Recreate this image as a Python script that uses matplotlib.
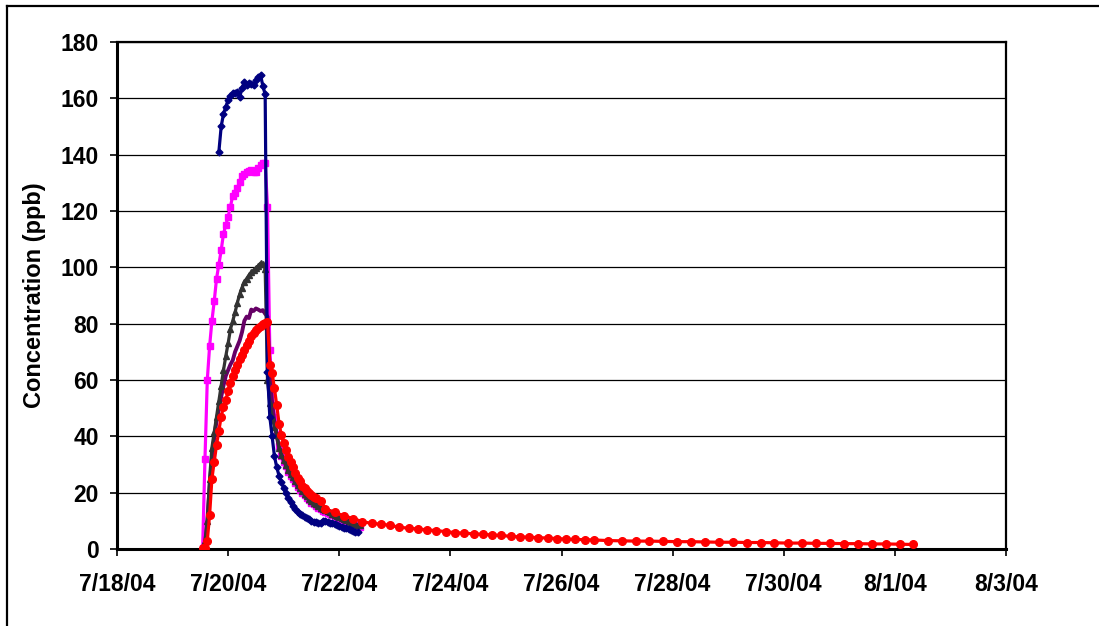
import matplotlib
matplotlib.use("Agg")
import matplotlib.pyplot as plt
import pandas as pd
from matplotlib.lines import Line2D

plt.rcParams['font.family'] = ['Liberation Sans', 'DejaVu Sans']
plt.rcParams['font.weight'] = 'bold'

START = pd.Timestamp("2004-07-18")

# sample times, hours after 7/18/04 00:00
blue_hours = list(range(44, 105))
pink_hours = list(range(37, 106))
gray_hours = list(range(37, 106))
purple_hours = list(range(37, 106))
red_hours = (list(range(37, 87)) + [88, 90, 94, 98, 102, 106]
             + list(range(110, 207, 4)) + list(range(212, 345, 6)))

# concentrations (ppb)
blue_ppb = [141, 150, 154.5, 157, 159.5, 161, 161.8, 161.8, 162.3, 160.6,
            163.5, 165.9, 164.7, 165.3, 165, 164.7, 166.5, 167.5, 168.3, 164.4,
            161.4,
            63, 47, 40, 33, 29, 26, 23.8, 21.5, 19.8, 18,
            16.7, 15.2, 14.2, 13.2, 12.6, 12, 11.4, 10.9, 10.5, 10.1,
            9.7, 9.5, 9.4, 9.3, 9.8, 10, 9.7, 9.4, 9.1, 8.8,
            8.5, 8.2, 7.9, 7.6, 7.3, 7.0, 6.8, 6.5, 6.2, 5.9]

pink_ppb = [0.5, 32, 60, 72, 81, 88, 96, 101, 106, 112,
            115, 118, 121.5, 125.5, 126.5, 128, 130.4, 132.3, 133, 133.9,
            134.3, 134.5, 134, 134, 135.1, 136.5, 137, 137,
            121.5, 70.6, 57, 47, 41, 36.5, 33, 31, 29.3, 27.5,
            26, 24.8, 23.4, 22, 21, 20, 19, 18.2, 17.3, 16.5,
            15.8, 15.2, 14.6, 14.1, 13.6, 13.2, 12.8, 12.4, 12, 11.6,
            11.2, 10.8, 10.4, 10, 9.7, 9.4, 9, 8.7, 8.4, 8.1, 7.8]

gray_ppb = [0.3, 3, 10, 25, 36, 41.5, 47, 52.5, 58, 63.5,
            68.5, 73, 78, 81, 84, 87.5, 90.5, 92.8, 94.8, 96,
            97.2, 98.2, 99, 99.8, 100.5, 101.5, 101.2, 99.5,
            60, 52, 47, 43.4, 40.5, 36, 33.5, 31.5, 30, 28,
            26.8, 25.5, 24, 22.6, 21.5, 20.6, 19.6, 18.8, 17.8, 17,
            16.4, 15.8, 15.2, 14.7, 14.2, 13.8, 13.4, 13, 12.6, 12.2,
            11.8, 11.4, 11, 10.6, 10.2, 9.9, 9.5, 9.2, 8.9, 8.6, 8.4]

purple_ppb = [0.3, 0.8, 10, 22, 32, 39.5, 45.5, 49.5, 54, 58,
              61.5, 63.5, 65.5, 67, 70, 72, 74, 77, 81, 82.5,
              82, 85, 84.5, 85.4, 85, 84.5, 84.8, 83.5, 82.5,
              62, 52, 45, 40, 36, 33.5, 31.5, 29.6, 27.8,
              26.3, 25, 23.6, 22.3, 21.2, 20.2, 19.3, 18.4, 17.6, 16.8,
              16.1, 15.5, 14.9, 14.4, 13.9, 13.5, 13.1, 12.7, 12.3, 11.9,
              11.5, 11.1, 10.7, 10.3, 10, 9.7, 9.4, 9.1, 8.8, 8.5, 8.2]

red_ppb = [0.3, 0.5, 3, 12, 25, 31, 37, 42, 47, 50.5,
           53, 56, 59, 61.5, 63.5, 65.5, 67.5, 69, 70.5, 72.4,
           74, 75.7, 76.8, 77.6, 78.3, 79, 79.8, 80.3, 80.6, 65.5,
           62.5, 57, 51, 44.5, 40.5, 37.8, 35.3, 32.8, 30.8, 29,
           27.1, 25.3, 24, 22.5, 21.5, 20.6, 19.8, 19.1, 18.6, 18.0,
           17, 14.2, 13.0, 11.8, 10.8, 9.7,
           9.1, 8.8, 8.4, 7.7, 7.4, 7.1, 6.8, 6.5, 6.2, 5.8,
           5.6, 5.4, 5.2, 5.0, 4.8, 4.5, 4.3, 4.2, 4.0, 3.9,
           3.7, 3.5, 3.4, 3.3, 3.2,
           3.0, 2.9, 2.8, 2.8, 2.7, 2.6, 2.6, 2.5, 2.4, 2.4,
           2.3, 2.3, 2.2, 2.1, 2.1, 2.0, 2.0, 1.9, 1.9, 1.8,
           1.8, 1.7, 1.6]

x_tick_labels = ['7/18/04', '7/20/04', '7/22/04', '7/24/04', '7/26/04',
                 '7/28/04', '7/30/04', '8/1/04', '8/3/04']
y_ticks = [0, 20, 40, 60, 80, 100, 120, 140, 160, 180]


def to_dates(hours):
    return START + pd.to_timedelta(hours, unit="h")


W, H = 1099, 626
fig = plt.figure(figsize=(W / 100, H / 100), dpi=100)
ax = fig.add_axes([117 / W, 77 / H, 889 / W, 507 / H])

# outer chart border (only left/top are inside the picture)
fig.add_artist(Line2D([7 / W, 7 / W], [0, 1 - 6 / H], color='black', lw=1.6,
                      transform=fig.transFigure))
fig.add_artist(Line2D([7 / W, 1], [1 - 6 / H, 1 - 6 / H], color='black', lw=1.6,
                      transform=fig.transFigure))

ax.plot(to_dates(pink_hours), pink_ppb, color='#FF00FF', lw=2.3, marker='s',
        ms=5, mec='#FF00FF', zorder=3)
ax.plot(to_dates(purple_hours), purple_ppb, color='#660066', lw=2.8, zorder=4)
ax.plot(to_dates(gray_hours), gray_ppb, color='#333333', lw=2.3, marker='^',
        ms=4.5, zorder=5)
ax.plot(to_dates(blue_hours), blue_ppb, color='#000080', lw=2.3, marker='D',
        ms=3.5, zorder=6)
ax.plot(to_dates(red_hours), red_ppb, color='#FF0000', lw=2.3, marker='o',
        ms=5.5, zorder=7)

ax.set_xlim(START, START + pd.Timedelta(days=16))
ax.set_ylim(0, 180)
x_ticks = pd.date_range(START, periods=len(x_tick_labels), freq='2D')
ax.set_xticks(x_ticks)
ax.set_xticklabels(x_tick_labels)
ax.set_yticks(y_ticks)
ax.yaxis.grid(True, color='black', lw=0.9)
ax.set_axisbelow(True)

ax.tick_params(axis='both', direction='out', length=5, width=1.2,
               colors='black', labelsize=16.5)
ax.tick_params(axis='x', pad=12)
ax.tick_params(axis='y', pad=8)
for lab in ax.get_xticklabels() + ax.get_yticklabels():
    lab.set_fontweight('bold')

for side in ['left', 'bottom']:
    ax.spines[side].set_linewidth(2.2)
for side in ['top', 'right']:
    ax.spines[side].set_linewidth(1.6)

ax.set_ylabel('Concentration (ppb)', fontsize=17, fontweight='bold')
ax.yaxis.set_label_coords(-(117 - 46) / 889, 0.5)

fig.savefig('out.png', dpi=100)
